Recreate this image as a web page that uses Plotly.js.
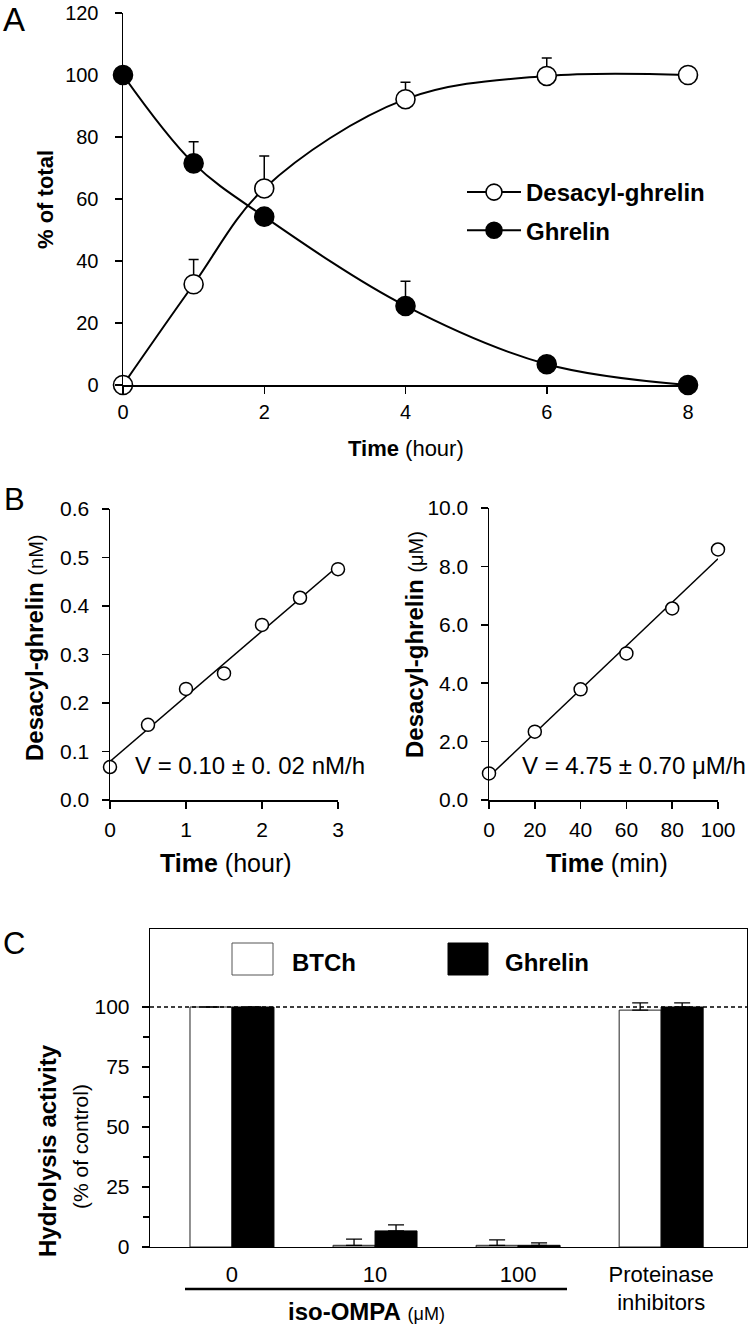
<!DOCTYPE html>
<html>
<head>
<meta charset="utf-8">
<script src="https://cdn.plot.ly/plotly-3.0.1.min.js"></script>
<style>
html,body{margin:0;padding:0;background:#fff;}
#chart{width:754px;height:1324px;}
</style>
</head>
<body>
<div id="chart"></div>
<script>
// ---------- Panel A data ----------
const timeA = [0, 1, 2, 4, 6, 8];
const desacylA = [0, 32.5, 63.4, 92.2, 99.7, 100];
const desacylErrA = [null, 8, 10.5, 5.5, 5.8, null];
const ghrelinA = [100, 71.5, 54.3, 25.5, 6.7, 0];
const ghrelinErrA = [null, 7, null, 8, null, null];
const namesA = ['Desacyl-ghrelin', 'Ghrelin'];
const ticksA_x = [0, 2, 4, 6, 8];
const ticksA_y = [0, 20, 40, 60, 80, 100, 120];

// ---------- Panel B data ----------
const timeB1 = [0, 0.5, 1, 1.5, 2, 2.5, 3];
const desacylB1 = [0.068, 0.155, 0.229, 0.261, 0.361, 0.417, 0.476];
const timeB2 = [0, 20, 40, 60, 80, 100];
const desacylB2 = [0.91, 2.34, 3.79, 5.02, 6.56, 8.58];
const labelB1 = 'V = 0.10 ± 0. 02 nM/h';
const labelB2 = 'V = 4.75 ± 0.70 μM/h';

// ---------- Panel C data ----------
const groupsC = ['0', '10', '100', 'Proteinase<br>inhibitors'];
const btchC = [100, 0.7, 0.7, 98.7];
const btchErrC = [null, 2.6, 2.3, 3.0];
const ghrelinC = [100, 6.7, 0.7, 100];
const ghrelinErrC = [null, 2.5, 1.0, 1.7];
const namesC = ['BTCh', 'Ghrelin'];
const ticksC_y = [0, 25, 50, 75, 100];
const minorC_y = [12.5, 37.5, 62.5, 87.5];

// least-squares line through the read points
function linfit(xs, ys) {
  const n = xs.length;
  const mx = xs.reduce((a, b) => a + b, 0) / n;
  const my = ys.reduce((a, b) => a + b, 0) / n;
  let sxy = 0, sxx = 0;
  for (let i = 0; i < n; i++) { sxy += (xs[i] - mx) * (ys[i] - my); sxx += (xs[i] - mx) ** 2; }
  const b = sxy / sxx, a = my - b * mx;
  const x0 = xs[0], x1 = xs[n - 1];
  return { x: [x0, x1], y: [a + b * x0, a + b * x1] };
}

const W = 754, H = 1324;
const fx = p => p / W;
const fy = p => 1 - p / H;
const FONT = 'Liberation Sans, Arial, Helvetica, sans-serif';
const zeros = arr => arr.map(() => 0);

const fitB1 = linfit(timeB1, desacylB1);
const fitB2 = linfit(timeB2, desacylB2);

const traces = [
  // Panel A
  {
    x: timeA, y: desacylA, name: namesA[0], type: 'scatter', mode: 'lines+markers',
    xaxis: 'x', yaxis: 'y', cliponaxis: false, legendgroup: 'a1',
    line: { color: '#000', width: 2, shape: 'spline', smoothing: 1 },
    marker: { symbol: 'circle', size: 19, color: '#fff', line: { color: '#000', width: 1.6 } },
    error_y: { type: 'data', symmetric: false, array: desacylErrA, arrayminus: zeros(desacylErrA), color: '#000', thickness: 1.5, width: 5 }
  },
  {
    x: timeA, y: ghrelinA, name: namesA[1], type: 'scatter', mode: 'lines+markers',
    xaxis: 'x', yaxis: 'y', cliponaxis: false, legendgroup: 'a2',
    line: { color: '#000', width: 2, shape: 'spline', smoothing: 1 },
    marker: { symbol: 'circle', size: 19, color: '#000', line: { color: '#000', width: 1.6 } },
    error_y: { type: 'data', symmetric: false, array: ghrelinErrA, arrayminus: zeros(ghrelinErrA), color: '#000', thickness: 1.5, width: 5 }
  },
  // Panel B left
  {
    x: fitB1.x, y: fitB1.y, type: 'scatter', mode: 'lines', xaxis: 'x2', yaxis: 'y2',
    showlegend: false, line: { color: '#000', width: 1.5 }
  },
  {
    x: timeB1, y: desacylB1, type: 'scatter', mode: 'markers', xaxis: 'x2', yaxis: 'y2',
    showlegend: false, cliponaxis: false,
    marker: { symbol: 'circle', size: 13, color: '#fff', line: { color: '#000', width: 1.5 } }
  },
  // Panel B right
  {
    x: fitB2.x, y: fitB2.y, type: 'scatter', mode: 'lines', xaxis: 'x3', yaxis: 'y3',
    showlegend: false, line: { color: '#000', width: 1.5 }
  },
  {
    x: timeB2, y: desacylB2, type: 'scatter', mode: 'markers', xaxis: 'x3', yaxis: 'y3',
    showlegend: false, cliponaxis: false,
    marker: { symbol: 'circle', size: 13, color: '#fff', line: { color: '#000', width: 1.5 } }
  },
  // Panel C
  {
    x: groupsC, y: btchC, name: namesC[0], type: 'bar', xaxis: 'x4', yaxis: 'y4', showlegend: false,
    marker: { color: '#fff', line: { color: '#222', width: 1 } },
    error_y: { type: 'data', symmetric: false, array: btchErrC, arrayminus: zeros(btchErrC), color: '#000', thickness: 1.3, width: 8 }
  },
  {
    x: groupsC, y: ghrelinC, name: namesC[1], type: 'bar', xaxis: 'x4', yaxis: 'y4', showlegend: false,
    marker: { color: '#000', line: { color: '#000', width: 1 } },
    error_y: { type: 'data', symmetric: false, array: ghrelinErrC, arrayminus: zeros(ghrelinErrC), color: '#000', thickness: 1.3, width: 8 }
  }
];

const axBase = {
  showline: true, linecolor: '#000', linewidth: 1.5, ticks: 'outside', ticklen: 7, tickwidth: 1.5,
  tickcolor: '#000', showgrid: false, zeroline: false, fixedrange: true,
  tickfont: { family: FONT, size: 20, color: '#000' }
};

function ann(text, x, y, size, opts) {
  return Object.assign({
    text: text, x: fx(x), y: fy(y), xref: 'paper', yref: 'paper', showarrow: false,
    xanchor: 'center', yanchor: 'middle', font: { family: FONT, size: size, color: '#000' }
  }, opts || {});
}

const layout = {
  width: W, height: H,
  margin: { l: 0, r: 0, t: 0, b: 0 },
  paper_bgcolor: '#fff', plot_bgcolor: 'rgba(0,0,0,0)',
  font: { family: FONT, color: '#000' },
  barmode: 'group', bargap: 0.413, bargroupgap: 0,
  showlegend: true,
  legend: {
    x: fx(462), y: fy(170), xanchor: 'left', yanchor: 'top',
    bgcolor: 'rgba(0,0,0,0)', borderwidth: 0, itemwidth: 54,
    traceorder: 'grouped', tracegroupgap: 4,
    font: { family: FONT, size: 24, color: '#000', weight: 'bold' }
  },
  xaxis: Object.assign({}, axBase, { domain: [fx(123), fx(688)], range: [0, 8], tickvals: ticksA_x, anchor: 'y', ticklabelstandoff: 1 }),
  yaxis: Object.assign({}, axBase, { domain: [fy(385), fy(13)], range: [0, 120], tickvals: ticksA_y, anchor: 'x', ticklabelstandoff: 12 }),
  xaxis2: Object.assign({}, axBase, { domain: [fx(110), fx(338)], range: [0, 3], dtick: 1, anchor: 'y2', ticklabelstandoff: 3,
    tickfont: { family: FONT, size: 21, color: '#000' } }),
  yaxis2: Object.assign({}, axBase, { domain: [fy(800), fy(509)], range: [0, 0.6], dtick: 0.1, tickformat: '.1f', anchor: 'x2', ticklabelstandoff: 8,
    tickfont: { family: FONT, size: 21, color: '#000' } }),
  xaxis3: Object.assign({}, axBase, { domain: [fx(489), fx(718)], range: [0, 100], dtick: 20, anchor: 'y3', ticklabelstandoff: 3,
    tickfont: { family: FONT, size: 21, color: '#000' } }),
  yaxis3: Object.assign({}, axBase, { domain: [fy(800), fy(508)], range: [0, 10], dtick: 2, tickformat: '.1f', anchor: 'x3', ticklabelstandoff: 8,
    tickfont: { family: FONT, size: 21, color: '#000' } }),
  xaxis4: Object.assign({}, axBase, { domain: [fx(150), fx(747)], type: 'category', range: [-0.573, 3.6], anchor: 'y4',
    ticks: 'outside', ticklen: 4, tickcolor: 'rgba(0,0,0,0)', mirror: true, linewidth: 1.3, ticklabelstandoff: 3,
    tickfont: { family: FONT, size: 22, color: '#000' } }),
  yaxis4: Object.assign({}, axBase, { domain: [fy(1247), fy(929)], range: [0, 132.5], tickvals: ticksC_y, anchor: 'x4',
    mirror: true, linewidth: 1.3, ticklabelstandoff: 8, tickfont: { family: FONT, size: 21, color: '#000' },
    minor: { tickmode: 'array', tickvals: minorC_y, ticks: 'outside', ticklen: 6, tickwidth: 1.3, tickcolor: '#000', showgrid: false } }),
  shapes: [
    // 100 % reference line in panel C
    { type: 'line', xref: 'x4 domain', yref: 'y4', x0: 0, x1: 1, y0: 100, y1: 100,
      line: { color: '#000', width: 1.4, dash: '4px,3px' } },
    // legend swatches panel C
    { type: 'rect', xref: 'paper', yref: 'paper', x0: fx(232), x1: fx(273), y0: fy(975), y1: fy(943),
      fillcolor: '#fff', line: { color: '#555', width: 1 } },
    { type: 'rect', xref: 'paper', yref: 'paper', x0: fx(448), x1: fx(488), y0: fy(975), y1: fy(943),
      fillcolor: '#000', line: { color: '#000', width: 1 } },
    // iso-OMPA bracket line
    { type: 'line', xref: 'paper', yref: 'paper', x0: fx(185), x1: fx(567), y0: fy(1289), y1: fy(1289),
      line: { color: '#000', width: 2.5 } }
  ],
  annotations: [
    ann('A', 14, 0, 33, { yanchor: 'top', borderpad: 0 }),
    ann('B', 14, 499, 31),
    ann('C', 14, 944, 31),
    ann('<b>% of total</b>', 46, 200, 22, { textangle: -90 }),
    ann('<b>Time</b> (hour)', 406, 448, 22),
    ann('<b>Desacyl-ghrelin</b> <span style="font-size:20px">(nM)</span>', 35, 648, 24, { textangle: -90 }),
    ann('<b>Desacyl-ghrelin</b> <span style="font-size:20px">(μM)</span>', 414, 645, 24, { textangle: -90 }),
    ann('<b>Time</b> (hour)', 226, 863, 25),
    ann('<b>Time</b> (min)', 607, 863, 25),
    ann(labelB1, 133, 765, 24, { xanchor: 'left' }),
    ann(labelB2, 520, 765, 24, { xanchor: 'left' }),
    ann('<b>BTCh</b>', 290, 962, 24, { xanchor: 'left' }),
    ann('<b>Ghrelin</b>', 503, 962, 24, { xanchor: 'left' }),
    ann('<b>Hydrolysis activity</b>', 47, 1151, 24, { textangle: -90 }),
    ann('(% of control)', 80, 1147, 21, { textangle: -90 }),
    ann('<b>iso-OMPA</b> <span style="font-size:18px">(μM)</span>', 366, 1311, 24)
  ]
};

Plotly.newPlot('chart', traces, layout, { staticPlot: true, displayModeBar: false });
</script>
</body>
</html>
